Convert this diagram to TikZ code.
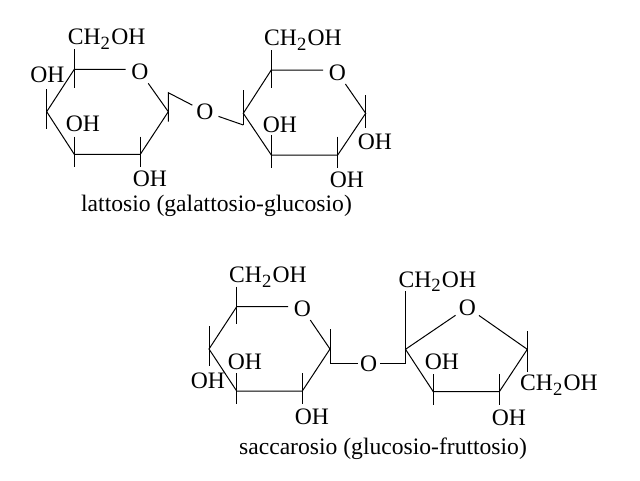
\documentclass[tikz,border=0pt]{standalone}
\usepackage{fontspec}
\setmainfont{Liberation Serif}

\newcommand{\chtwo}{CH\smash{\raisebox{-0.2em}{\fontsize{14pt}{14pt}\selectfont 2}}\kern1pt OH}

\tikzset{
  bond/.style={line width=0.75pt},
  lbl/.style={inner sep=0pt, font=\fontsize{17.7pt}{17.7pt}\selectfont},
  oxy/.style={lbl, circle, minimum size=21pt}
}

\begin{document}
\begin{tikzpicture}[x=0.75pt, y=-0.75pt]

\useasboundingbox ( 0, 0 ) rectangle ( 640, 480 );

% Galactose ring
\coordinate (ga5) at ( 74.3, 69.3 );
\coordinate (ga4) at ( 46.7, 111.7 );
\coordinate (ga3) at ( 74.3, 154.3 );
\coordinate (ga2) at ( 140.3, 154.3 );
\coordinate (ga1) at ( 168.3, 111.7 );
\node at ( 140, 71.7 ) [oxy] (gao) {O};

\draw [bond] (gao.west |- ga5) -- (ga5) -- (ga4) -- (ga3) -- (ga2) -- (ga1) -- (gao);
\draw [bond] (ga5) ++( 0, -20 ) -- ++( 0, 38.4 );
\draw [bond] (ga4) ++( 0, -22.4 ) -- ++( 0, 40 );
\draw [bond] (ga3) ++( 0, -17.6 ) -- ++( 0, 30 );
\draw [bond] (ga2) ++( 0, -17.6 ) -- ++( 0, 30 );

% Bridge between the two rings
\coordinate (gab) at ( 168.3, 92.7 );
\coordinate (glb) at ( 243.3, 125 );
\node at ( 205, 111.7 ) [oxy] (lato) {O};

\draw [bond] (ga1) ++( 0, 10 ) -- (gab) -- (lato) -- (glb);

% Glucose ring
\coordinate (gl5) at ( 271.3, 70 );
\coordinate (gl4) at ( 243.3, 113.3 );
\coordinate (gl3) at ( 271.3, 155 );
\coordinate (gl2) at ( 337.7, 155 );
\coordinate (gl1) at ( 365.7, 113.3 );
\node at ( 337.3, 72.3 ) [oxy] (glo) {O};

\draw [bond] (glo.west |- gl5) -- (gl5) -- (gl4) -- (gl3) -- (gl2) -- (gl1) -- (glo);
\draw [bond] (gl5) ++( 0, -20 ) -- ++( 0, 38.3 );
\draw [bond] (gl4) ++( 0, -23.3 ) -- (glb);
\draw [bond] (gl3) ++( 0, -20 ) -- ++( 0, 33 );
\draw [bond] (gl2) ++( 0, -18.3 ) -- ++( 0, 31.6 );
\draw [bond] (gl1) ++( 0, -18.3 ) -- ++( 0, 33.3 );

% Labels of the lactose
\node at ( 106.7, 37 ) [lbl] (gach) {\chtwo};
\node at ( 47.5, 75 ) [lbl] (gaoha) {OH};
\node at ( 83, 124 ) [lbl] (gaohb) {OH};
\node at ( 150, 179 ) [lbl] (gaohc) {OH};
\node at ( 303, 38 ) [lbl] (glch) {\chtwo};
\node at ( 280, 125 ) [lbl] (glcoha) {OH};
\node at ( 375, 141.7 ) [lbl] (glohb) {OH};
\node at ( 347, 180 ) [lbl] (glohc) {OH};
\node at ( 216.5, 206 ) [lbl] (latname) {lattosio (galattosio-glucosio)};

% Glucose ring of the sucrose
\coordinate (sg5) at ( 236.7, 306.7 );
\coordinate (sg4) at ( 209, 349 );
\coordinate (sg3) at ( 236.7, 391 );
\coordinate (sg2) at ( 302.3, 391 );
\coordinate (sg1) at ( 330, 349 );
\node at ( 302.3, 308.3 ) [oxy] (sgo) {O};

\draw [bond] (sgo.west |- sg5) -- (sg5) -- (sg4) -- (sg3) -- (sg2) -- (sg1) -- (sgo);
\draw [bond] (sg5) ++( 0, -20 ) -- ++( 0, 37.6 );
\draw [bond] (sg4) ++( 0, -23 ) -- ++( 0, 40 );
\draw [bond] (sg3) ++( 0, -17.7 ) -- ++( 0, 31 );
\draw [bond] (sg2) ++( 0, -17.7 ) -- ++( 0, 31 );

% Bridge of the sucrose
\coordinate (sgb) at ( 330, 363.3 );
\coordinate (sfb) at ( 405.5, 363.3 );
\node at ( 368.7, 364 ) [oxy] (saco) {O};

\draw [bond] (sg1) ++( 0, -20 ) -- (sgb) -- ([xshift=3pt]saco.west |- sgb);
\draw [bond] ([xshift=-2pt]saco.east |- sfb) -- (sfb);

% Fructose ring
\coordinate (sf5) at ( 405.5, 349.3 );
\coordinate (sf4) at ( 433.3, 391.7 );
\coordinate (sf3) at ( 499.3, 391.7 );
\coordinate (sf2) at ( 527.3, 349.3 );
\node at ( 467.3, 307.3 ) [oxy] (sfo) {O};

\draw [bond] (sfo) -- (sf5) -- (sf4) -- (sf3) -- (sf2) -- (sfo);
\draw [bond] (sfb) -- ++( 0, -72.3 );
\draw [bond] (sf4) ++( 0, -17.4 ) -- ++( 0, 30.6 );
\draw [bond] (sf3) ++( 0, -17.4 ) -- ++( 0, 30.6 );
\draw [bond] (sf2) ++( 0, -18.3 ) -- ++( 0, 40.7 );

% Labels of the sucrose
\node at ( 268, 275 ) [lbl] (sgch) {\chtwo};
\node at ( 245, 361.7 ) [lbl] (sgoha) {OH};
\node at ( 208, 381 ) [lbl] (sgohb) {OH};
\node at ( 312, 416.7 ) [lbl] (sgohc) {OH};
\node at ( 437.3, 279.3 ) [lbl] (sfcha) {\chtwo};
\node at ( 442, 362 ) [lbl] (sfoha) {OH};
\node at ( 559, 383 ) [lbl] (sfchb) {\chtwo};
\node at ( 509, 418 ) [lbl] (sfohb) {OH};
\node at ( 383, 449 ) [lbl] (sacname) {saccarosio (glucosio-fruttosio)};

\end{tikzpicture}
\end{document}
